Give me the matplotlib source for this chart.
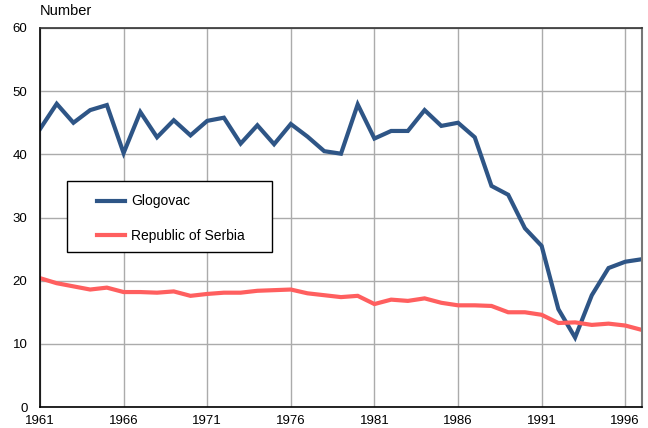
import matplotlib
matplotlib.use("Agg")
import matplotlib.pyplot as plt
from matplotlib.patches import Rectangle

plt.rcParams['font.family'] = ['Liberation Sans', 'DejaVu Sans']

# godine i stope
years = list(range(1961, 1998))
glogovac = [44.0, 48.0, 45.0, 47.0, 47.8, 40.2, 46.7, 42.7, 45.4, 43.0,
            45.3, 45.8, 41.7, 44.6, 41.6, 44.8, 42.8, 40.5, 40.1, 47.9,
            42.5, 43.7, 43.7, 47.0, 44.5, 45.0, 42.7, 35.0, 33.6, 28.3,
            25.5, 15.5, 11.0, 17.7, 22.0, 23.0, 23.4]
serbia = [20.4, 19.6, 19.1, 18.6, 18.9, 18.2, 18.2, 18.1, 18.3, 17.6,
          17.9, 18.1, 18.1, 18.4, 18.5, 18.6, 18.0, 17.7, 17.4, 17.6,
          16.3, 17.0, 16.8, 17.2, 16.5, 16.1, 16.1, 16.0, 15.0, 15.0,
          14.6, 13.3, 13.4, 13.0, 13.2, 12.9, 12.2]
xticks = [1961, 1966, 1971, 1976, 1981, 1986, 1991, 1996]
yticks = [0, 10, 20, 30, 40, 50, 60]

fig = plt.figure(figsize=(6.48, 4.28), dpi=100)
ax = fig.add_axes([0.0617, 0.049, 0.929, 0.8856])

ax.plot(years, glogovac, color='#2E5586', lw=3.0, label='Glogovac', solid_joinstyle='miter')
ax.plot(years, serbia, color='#FF5F5F', lw=3.0, label='Republic of Serbia', solid_joinstyle='miter')

ax.set_xlim(1961, 1997)
ax.set_ylim(0, 60)
ax.set_xticks(xticks)
ax.set_yticks(yticks)
ax.tick_params(length=0, labelsize=9.5)
ax.tick_params(axis='x', pad=6)
ax.tick_params(axis='y', pad=9)
ax.grid(True, color='#ABABAB', lw=1.0)
ax.set_axisbelow(True)
for s in ['left', 'bottom']:
    ax.spines[s].set_color('black')
    ax.spines[s].set_linewidth(1.2)
ax.spines['top'].set_color('#333333')
ax.spines['top'].set_linewidth(1.2)
ax.spines['right'].set_color('#777777')
ax.spines['right'].set_linewidth(1.5)

fig.text(0.0617, 0.958, 'Number', fontsize=10.5, ha='left', va='bottom')

# okvir legende
box = Rectangle((0.0449, 0.409), 0.3405, 0.187, transform=ax.transAxes,
                facecolor='white', edgecolor='black', lw=1.0, zorder=4)
ax.add_patch(box)
leg = ax.legend(loc='upper left', bbox_to_anchor=(0.0947, 0.561), frameon=False,
                fontsize=10, handlelength=2.0, handletextpad=0.45,
                borderpad=0, labelspacing=1.5, borderaxespad=0)
leg.set_zorder(5)

fig.savefig('out.png', dpi=100)
